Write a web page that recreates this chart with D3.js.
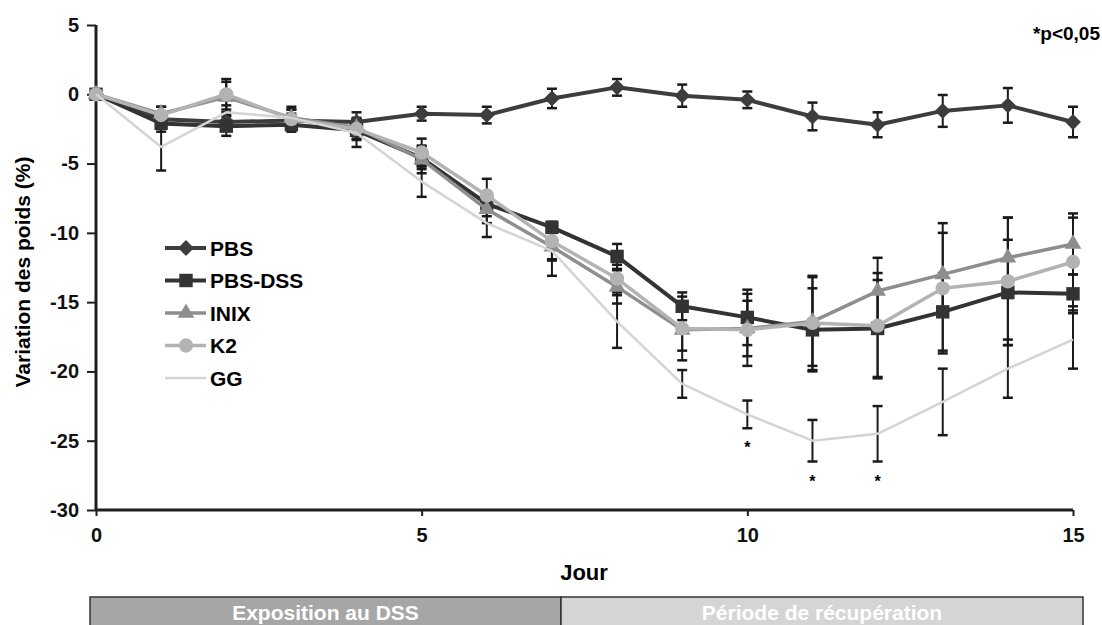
<!DOCTYPE html>
<html>
<head>
<meta charset="utf-8">
<script src="https://cdn.jsdelivr.net/npm/d3@7"></script>
<style>
  body { margin: 0; background: #fff; }
  svg text { font-family: "Liberation Sans", Arial, sans-serif; font-weight: 700; }
</style>
</head>
<body>
<svg id="chart" width="1102" height="625"></svg>
<script>
// ── DATA ──────────────────────────────────────────────
const days = [0, 1, 2, 3, 4, 5, 6, 7, 8, 9, 10, 11, 12, 13, 14, 15];

const pbs       = [0, -1.8, -2.0, -1.9, -2.0, -1.4, -1.5, -0.3, 0.5, -0.1, -0.4, -1.6, -2.2, -1.2, -0.8, -2.0];
const pbsErr    = [0.3, 0.5, 0.5, 0.5, 0.7, 0.5, 0.6, 0.7, 0.6, 0.8, 0.6, 1.0, 0.9, 1.15, 1.25, 1.1];
const pbsDss    = [0, -2.1, -2.3, -2.2, -2.6, -4.6, -7.9, -9.6, -11.7, -15.3, -16.1, -17.0, -16.9, -15.7, -14.3, -14.4];
const pbsDssErr = [0.3, 0.6, 0.7, 0.5, 0.6, 0.8, 0.9, 0.4, 0.9, 1.0, 2.0, 3.0, 3.5, 2.8, 3.8, 1.4];
const inix      = [0, -1.4, -0.2, -1.7, -2.4, -4.7, -8.3, -11.0, -13.9, -17.0, -16.9, -16.4, -14.2, -13.0, -11.8, -10.8];
const inixErr   = [0.3, 0.5, 1.1, 0.8, 0.6, 1.0, 1.0, 1.0, 1.2, 1.5, 2.0, 3.2, 2.4, 3.0, 2.9, 2.2];
const k2        = [0, -1.5, 0, -1.8, -2.5, -4.2, -7.3, -10.6, -13.3, -16.9, -17.0, -16.5, -16.7, -14.0, -13.5, -12.1];
const k2Err     = [0.3, 0.6, 1.1, 0.7, 0.8, 1.0, 1.2, 1.3, 1.0, 2.3, 2.6, 3.4, 3.8, 4.7, 4.6, 3.2];
const gg        = [0, -3.8, -1.3, -1.7, -2.8, -6.3, -9.3, -11.3, -16.4, -20.9, -23.1, -25.0, -24.5, -22.2, -19.8, -17.7];
const ggErr     = [0.3, 1.7, 0.5, 0.6, 1.0, 1.1, 1.0, 1.8, 1.9, 1.0, 1.0, 1.5, 2.0, 2.4, 2.1, 2.1];

const starDays  = [10, 11, 12];
const xTicks    = [0, 5, 10, 15];
const yTicks    = [5, 0, -5, -10, -15, -20, -25, -30];

const series = [
  { name: "PBS",     values: pbs,    err: pbsErr,    color: "#3d3d3d", width: 4,   marker: "diamond" },
  { name: "PBS-DSS", values: pbsDss, err: pbsDssErr, color: "#333333", width: 4,   marker: "square" },
  { name: "INIX",    values: inix,   err: inixErr,   color: "#8e8e8e", width: 3.5, marker: "triangle" },
  { name: "K2",      values: k2,     err: k2Err,     color: "#b3b3b3", width: 3.5, marker: "circle" },
  { name: "GG",      values: gg,     err: ggErr,     color: "#d4d4d4", width: 2.5, marker: null }
];

// ── SCALES ────────────────────────────────────────────
const svg = d3.select("#chart");
const x = d3.scaleLinear().domain([0, 15]).range([96, 1073]);
const y = d3.scaleLinear().domain([-30, 5]).range([510, 25]);

const symbolFor = {
  diamond:  d3.symbol().type(d3.symbolDiamond2).size(160),
  square:   d3.symbol().type(d3.symbolSquare).size(180),
  triangle: d3.symbol().type(d3.symbolTriangle).size(120),
  circle:   d3.symbol().type(d3.symbolCircle).size(160)
};

// plain hyphen for negatives, like the original
const fmt = d => String(d);

// ── AXES ──────────────────────────────────────────────
const yAxis = svg.append("g")
  .attr("transform", `translate(${x(0)},0)`)
  .call(d3.axisLeft(y).tickValues(yTicks).tickFormat(fmt).tickSize(9).tickPadding(8));
yAxis.select(".domain").attr("stroke", "#1e1e1e").attr("stroke-width", 3).attr("d", `M0,${y(5)}V${y(-30)}`);
yAxis.selectAll(".tick line").attr("stroke", "#1e1e1e").attr("stroke-width", 2);
yAxis.selectAll(".tick text").attr("fill", "#111").style("font-size", "20px");

const xAxis = svg.append("g")
  .attr("transform", `translate(0,${y(-30)})`)
  .call(d3.axisBottom(x).tickValues(xTicks).tickFormat(fmt).tickSize(6).tickPadding(12));
xAxis.select(".domain").attr("stroke", "#1e1e1e").attr("stroke-width", 3).attr("d", `M${x(0)},0H${x(15)}`);
xAxis.selectAll(".tick line").attr("stroke", "#1e1e1e").attr("stroke-width", 2);
xAxis.selectAll(".tick text").attr("fill", "#111").style("font-size", "20px");

svg.append("text")
  .attr("x", 584).attr("y", 580)
  .attr("text-anchor", "middle")
  .style("font-size", "22px")
  .text("Jour");

svg.append("text")
  .attr("transform", `translate(30,272) rotate(-90)`)
  .attr("text-anchor", "middle")
  .style("font-size", "21px")
  .text("Variation des poids (%)");

svg.append("text")
  .attr("x", 1100).attr("y", 40)
  .attr("text-anchor", "end")
  .style("font-size", "19px")
  .text("*p<0,05");

// ── ERROR BARS ────────────────────────────────────────
const capW = 5;
series.forEach(s => {
  const g = svg.append("g").attr("class", "err");
  days.forEach((d, i) => {
    const v = s.values[i], e = s.err[i];
    const cx = x(d);
    g.append("line")
      .attr("x1", cx).attr("x2", cx)
      .attr("y1", y(v + e)).attr("y2", y(v - e))
      .attr("stroke", "#1a1a1a").attr("stroke-width", 2);
    [v + e, v - e].forEach(t => {
      g.append("line")
        .attr("x1", cx - capW).attr("x2", cx + capW)
        .attr("y1", y(t)).attr("y2", y(t))
        .attr("stroke", "#1a1a1a").attr("stroke-width", 2.5);
    });
  });
});

// ── LINES + MARKERS ───────────────────────────────────
const line = d3.line().x((d, i) => x(days[i])).y(d => y(d));

series.forEach(s => {
  svg.append("path")
    .datum(s.values)
    .attr("fill", "none")
    .attr("stroke", s.color)
    .attr("stroke-width", s.width)
    .attr("stroke-linejoin", "round")
    .attr("d", line);

  if (s.marker) {
    svg.append("g")
      .selectAll("path")
      .data(s.values)
      .join("path")
        .attr("transform", (d, i) => `translate(${x(days[i])},${y(d)})`)
        .attr("d", symbolFor[s.marker])
        .attr("fill", s.color);
  }
});

// significance stars under GG
svg.append("g")
  .selectAll("text")
  .data(starDays)
  .join("text")
    .attr("x", d => x(d))
    .attr("y", d => y(gg[days.indexOf(d)] - ggErr[days.indexOf(d)]) + 25)
    .attr("text-anchor", "middle")
    .style("font-size", "16px")
    .text("*");

// ── LEGEND ────────────────────────────────────────────
const legend = svg.append("g").attr("transform", "translate(165,248)");
series.forEach((s, i) => {
  const row = legend.append("g").attr("transform", `translate(0,${i * 32.5})`);
  row.append("line")
    .attr("x1", 0).attr("x2", 41)
    .attr("stroke", s.color)
    .attr("stroke-width", s.width);
  if (s.marker) {
    row.append("path")
      .attr("transform", "translate(21,0)")
      .attr("d", symbolFor[s.marker])
      .attr("fill", s.color);
  }
  row.append("text")
    .attr("x", 45).attr("y", 7.5)
    .style("font-size", "21px")
    .text(s.name);
});

// ── PHASE BAR ─────────────────────────────────────────
const phases = [
  { label: "Exposition au DSS",       from: 90,  to: 561,  fill: "#a6a6a6" },
  { label: "Période de récupération", from: 561, to: 1083, fill: "#d5d5d5" }
];
const phaseG = svg.append("g");
phases.forEach(p => {
  phaseG.append("rect")
    .attr("x", p.from).attr("y", 597)
    .attr("width", p.to - p.from).attr("height", 34)
    .attr("fill", p.fill)
    .attr("stroke", "#333").attr("stroke-width", 1.5);
  phaseG.append("text")
    .attr("x", (p.from + p.to) / 2).attr("y", 620)
    .attr("text-anchor", "middle")
    .attr("fill", "#fff")
    .style("font-size", "21px")
    .text(p.label);
});
</script>
</body>
</html>
